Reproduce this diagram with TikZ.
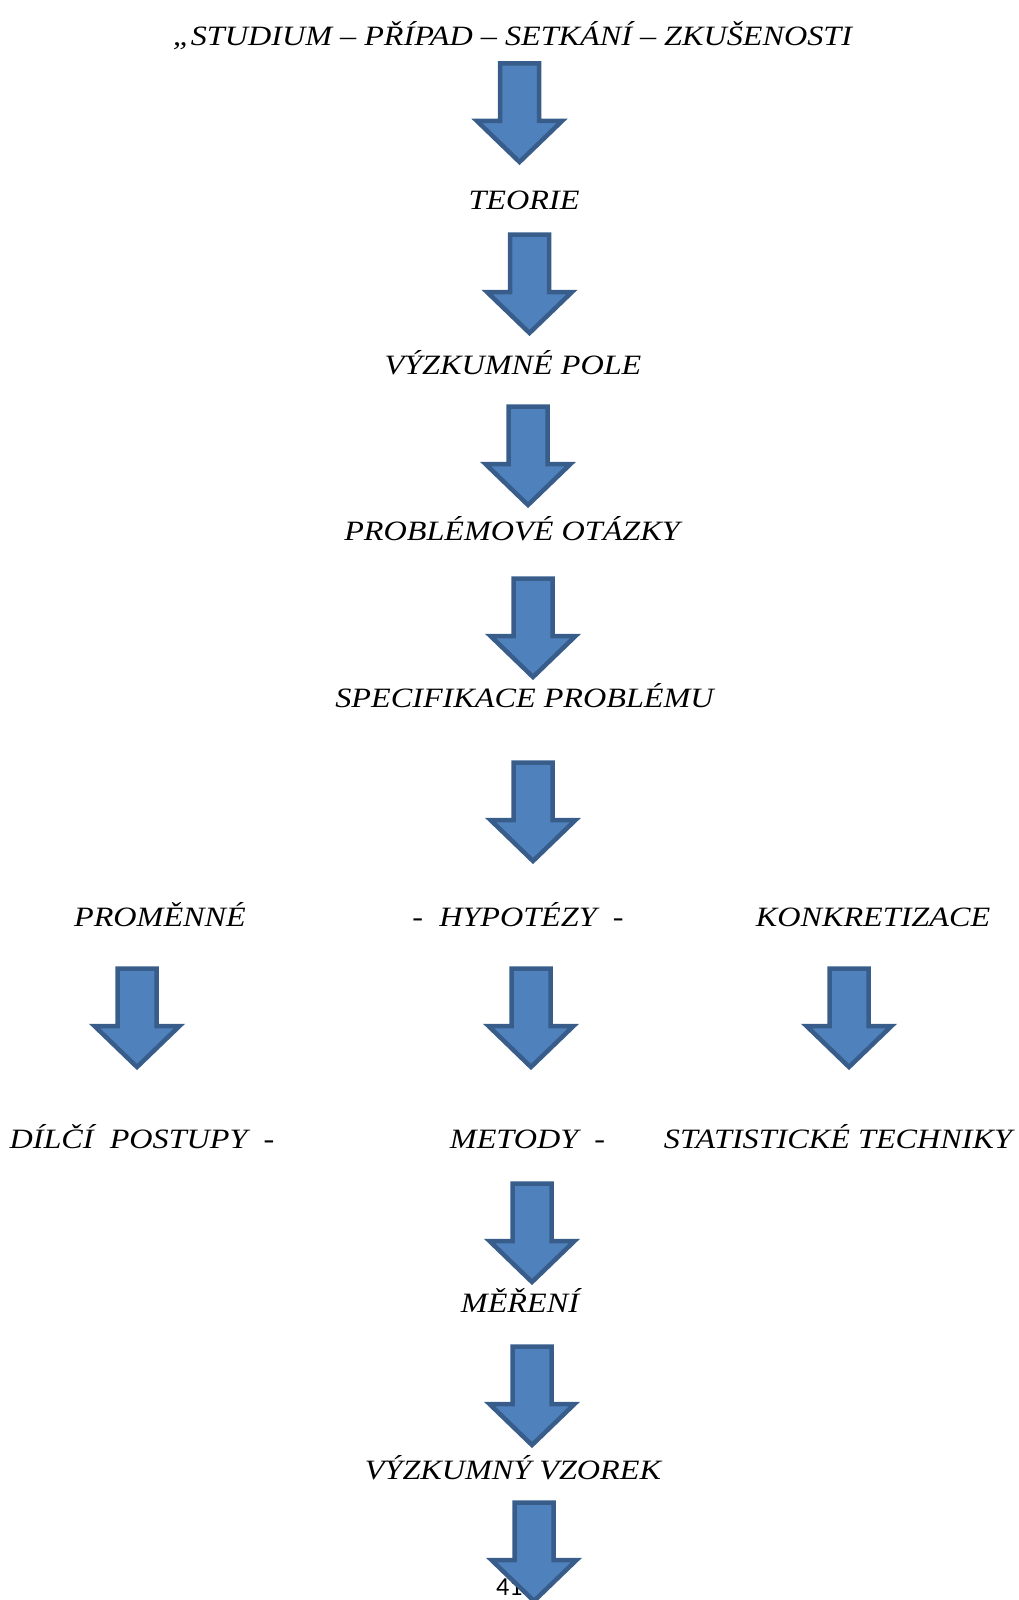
\documentclass[tikz,border=0pt]{standalone}
\usepackage{fontspec}
\setmainfont{Liberation Serif}[FakeStretch=1.15]
\newfontfamily\pagefont{Carlito}
\definecolor{arrfill}{HTML}{4F81BD}
\definecolor{arrline}{HTML}{385D8A}
\tikzset{
  lbl/.style={anchor=base, inner sep=0pt, font=\fontsize{28}{30}\selectfont\itshape},
  blockarrow/.style={fill=arrfill, draw=arrline, line width=4.5pt, line join=miter},
}
% #1 = centre x, #2 = top y (pixel units)
\newcommand\downarrowshape[2]{%
  \draw[blockarrow] (#1-19.5,#2+2.5) -- (#1+19.5,#2+2.5) -- (#1+19.5,#2+60) -- (#1+42.5,#2+60)
    -- (#1,#2+101) -- (#1-42.5,#2+60) -- (#1-19.5,#2+60) -- cycle;}
\begin{document}
\begin{tikzpicture}[x=1pt,y=-1pt]
\useasboundingbox (0,0) rectangle (1019,1600);
\node[lbl] (t1) at (512.5,45.5) {„STUDIUM – PŘÍPAD – SETKÁNÍ – ZKUŠENOSTI};
\node[lbl] (t2) at (524,209) {TEORIE};
\node[lbl] (t3) at (513,374.5) {VÝZKUMNÉ POLE};
\node[lbl] (t4) at (512,540.5) {PROBLÉMOVÉ OTÁZKY};
\node[lbl] (t5) at (524.5,707.5) {SPECIFIKACE PROBLÉMU};
\node[lbl] (a1) at (160,926.5) {PROMĚNNÉ};
\node[lbl] (a2) at (518,926.5) {-\ \ HYPOTÉZY\ \ -};
\node[lbl] (a3) at (873,926.5) {KONKRETIZACE};
\node[lbl] (b1) at (142,1148) {DÍLČÍ\ \ POSTUPY\ \ -};
\node[lbl] (b2) at (527.5,1148) {METODY\ \ -};
\node[lbl] (b3) at (838,1148) {STATISTICKÉ TECHNIKY};
\node[lbl] (t6) at (520,1312.5) {MĚŘENÍ};
\node[lbl] (t7) at (513,1479.5) {VÝZKUMNÝ VZOREK};
\node[anchor=base west, inner sep=0pt, font=\pagefont\fontsize{26}{28}\selectfont] (pg) at (496,1595) {41};
\downarrowshape{519.5}{61}
\downarrowshape{529.5}{232}
\downarrowshape{528}{404}
\downarrowshape{533}{576}
\downarrowshape{533}{760}
\downarrowshape{137}{966}
\downarrowshape{531}{966}
\downarrowshape{849}{966}
\downarrowshape{532}{1181}
\downarrowshape{532}{1344}
\downarrowshape{534}{1500}
\end{tikzpicture}
\end{document}
